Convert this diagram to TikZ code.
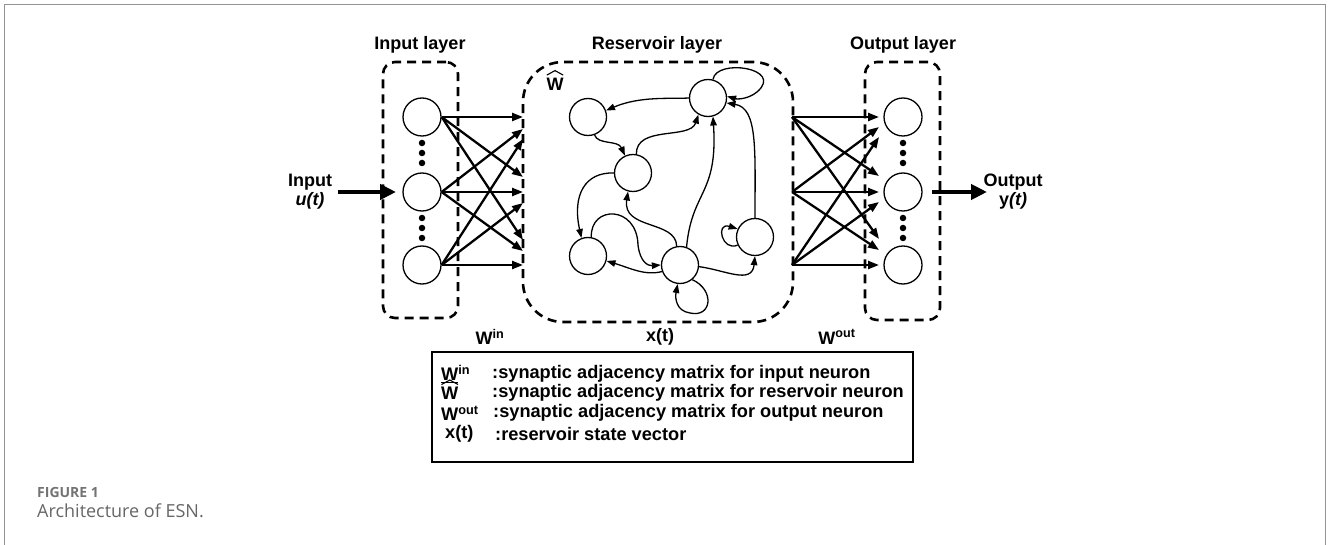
\documentclass[tikz,border=0pt]{standalone}
\usepackage{fontspec}
\setmainfont{Liberation Sans}
\newfontfamily\capfont{Open Sans}
\usetikzlibrary{arrows.meta}
\begin{document}
\begin{tikzpicture}[x=1pt,y=-1pt,
  layerbox/.style={draw, line width=2.6pt, dash pattern=on 9pt off 6pt, inner sep=0pt},
  neuron/.style={draw, circle, line width=1.3pt, minimum size=38pt, inner sep=0pt},
  dotc/.style={fill, circle, inner sep=0pt, minimum size=6.5pt},
  lbl/.style={inner sep=0pt, font=\fontsize{18}{20}\selectfont\bfseries},
  leg/.style={inner sep=0pt, anchor=west, font=\fontsize{18.2}{20}\selectfont\bfseries},
  hat/.style={line width=1.1pt},
  conn/.style={line width=2.3pt, -{Triangle[length=11pt,width=8pt]}},
  rconn/.style={line width=1.3pt, -{Triangle[length=9pt,width=6.5pt]}},
  bigarrow/.style={line width=4pt, -{Triangle[length=16pt,width=15pt]}}
]
\useasboundingbox (0,0) rectangle (1328,545);
% frame
\draw[gray!85, line width=1.5pt] (4.5,545) -- (4.5,4.5) -- (1325.5,4.5) -- (1325.5,545);

% layer boxes
\node[layerbox, rounded corners=12pt, minimum width=75pt, minimum height=256pt] (inbox) at (420.5,190) {};
\node[layerbox, rounded corners=40pt, minimum width=270pt, minimum height=260pt] (resbox) at (658,192) {};
\node[layerbox, rounded corners=12pt, minimum width=75pt, minimum height=258pt] (outbox) at (902.5,191) {};

% titles
\node[lbl] (tin) at (420,45) {Input layer};
\node[lbl] (tres) at (657,45) {Reservoir layer};
\node[lbl] (tout) at (903,45) {Output layer};

% input neurons
\node[neuron] (i1) at (422,117) {};
\node[neuron] (i2) at (422,192) {};
\node[neuron] (i3) at (422,265) {};
\foreach \y [count=\k] in {143,153,163,218,228,238} {
  \node[dotc] (id\k) at (422,\y) {};
}
% output neurons
\node[neuron] (o1) at (903,117) {};
\node[neuron] (o2) at (903,192) {};
\node[neuron] (o3) at (903,265) {};
\foreach \y [count=\k] in {143,153,163,218,228,238} {
  \node[dotc] (od\k) at (903,\y) {};
}

% input / output labels
\node[lbl, align=center] (inlab) at (310,192) {Input\\[-1pt]\itshape u(t)};
\node[lbl, align=center] (outlab) at (1013,192) {Output\\[-1pt]y\itshape(t)};
\coordinate (instart) at (338,192);
\coordinate (inend) at (396,192);
\draw[bigarrow] (instart) -- (inend);
\coordinate (outstart) at (932,192);
\coordinate (outend) at (987,192);
\draw[bigarrow] (outstart) -- (outend);

% input connections
\coordinate (a1) at (523,117); \coordinate (a2) at (523,129); \coordinate (a3) at (523,139);
\coordinate (a4) at (523,177); \coordinate (a5) at (523,192); \coordinate (a6) at (523,203);
\coordinate (a7) at (523,240); \coordinate (a8) at (523,251); \coordinate (a9) at (523,265);
\foreach \s/\t in {i1/a1,i1/a4,i1/a7,i2/a2,i2/a5,i2/a8,i3/a3,i3/a6,i3/a9} {
  \draw[conn] (\s.east) -- (\t);
}
% output connections
\coordinate (s1) at (792,117); \coordinate (s2) at (792,192); \coordinate (s3) at (792,265);
\coordinate (b1) at (879,117); \coordinate (b2) at (879,127); \coordinate (b3) at (879,137);
\coordinate (b4) at (879,176); \coordinate (b5) at (879,192); \coordinate (b6) at (879,202);
\coordinate (b7) at (879,239); \coordinate (b8) at (879,250); \coordinate (b9) at (879,265);
\foreach \s/\t in {s1/b1,s1/b4,s1/b7,s2/b2,s2/b5,s2/b8,s3/b3,s3/b6,s3/b9} {
  \draw[conn] (\s) -- (\t);
}

% reservoir
\node[lbl] (what) at (555,84) {W};
\draw[hat] ([xshift=0.5pt,yshift=2.5pt]what.north west) -- ([yshift=7pt]what.north) -- ([xshift=-0.5pt,yshift=2.5pt]what.north east);
\node[neuron,minimum size=37pt] (A) at (588,117) {};
\node[neuron,minimum size=37pt] (B) at (708,98) {};
\node[neuron,minimum size=37pt] (C) at (633,173) {};
\node[neuron,minimum size=37pt] (D) at (588,256) {};
\node[neuron,minimum size=37pt] (E) at (680,265) {};
\node[neuron,minimum size=37pt] (F) at (755,237) {};

\draw[rconn] (B.west) .. controls (670,99) and (640,96) .. (A.20);
\draw[rconn] (A.-70) .. controls (598,145) and (618,140) .. (C.115);
\draw[rconn] (C.80) .. controls (636,125) and (690,140) .. (B.-120);
\draw[rconn] (B.75) .. controls (716,58) and (785,68) .. (757,92) .. controls (747,100) and (736,99) .. (B.5);
\draw[rconn] (C.west) .. controls (585,172) and (572,195) .. (D.110);
\draw[rconn] (E.100) .. controls (676,220) and (622,230) .. (C.-105);
\draw[rconn] (D.80) .. controls (590,205) and (637,205) .. (638,245) .. controls (640,262) and (648,266) .. (E.west);
\draw[rconn] (E.200) .. controls (645,276) and (630,268) .. (D.-15);
\draw[rconn] (E.70) .. controls (692,190) and (718,195) .. (B.-75);
\draw[rconn] (F.north) .. controls (755,150) and (758,108) .. (B.-15);
\draw[rconn] (F.205) .. controls (722,252) and (715,222) .. (F.155);
\draw[rconn] (E.-5) .. controls (725,270) and (752,285) .. (F.south);
\draw[rconn] (E.-50) .. controls (715,290) and (712,318) .. (690,313) .. controls (676,311) and (675,298) .. (E.-97);

% bottom labels
\node[lbl] (lwin) at (490,337) {W\textsuperscript{in}};
\node[lbl] (lxt) at (660,337) {x(t)};
\node[lbl] (lwout) at (837,337) {W\textsuperscript{out}};

% legend
\node[draw, line width=1.3pt, minimum width=481pt, minimum height=110pt, inner sep=0pt] (legend) at (672.5,407) {};
\node[leg] (k1) at (441,374) {\underline{W}\textsuperscript{in}};
\node[leg] (k2) at (441,393) {W};
\draw[hat] ([xshift=0.5pt,yshift=2pt]k2.north west) -- ([yshift=6.5pt]k2.north) -- ([xshift=-0.5pt,yshift=2pt]k2.north east);
\node[leg] (k3) at (441,413) {W\textsuperscript{out}};
\node[leg] (k4) at (445,434) {x(t)};
\node[leg] (d1) at (492,374) {:synaptic adjacency matrix for input neuron};
\node[leg] (d2) at (492,393) {:synaptic adjacency matrix for reservoir neuron};
\node[leg] (d3) at (493,413) {:synaptic adjacency matrix for output neuron};
\node[leg] (d4) at (495,434) {:reservoir state vector};

% caption
\node[anchor=west, inner sep=0pt, text=black!55, font=\capfont\bfseries\fontsize{14}{16}\selectfont] (cap1) at (37,492) {FIGURE 1};
\node[anchor=west, inner sep=0pt, text=black!60, font=\capfont\fontsize{18}{20}\selectfont] (cap2) at (37,511) {Architecture of ESN.};
\end{tikzpicture}
\end{document}
